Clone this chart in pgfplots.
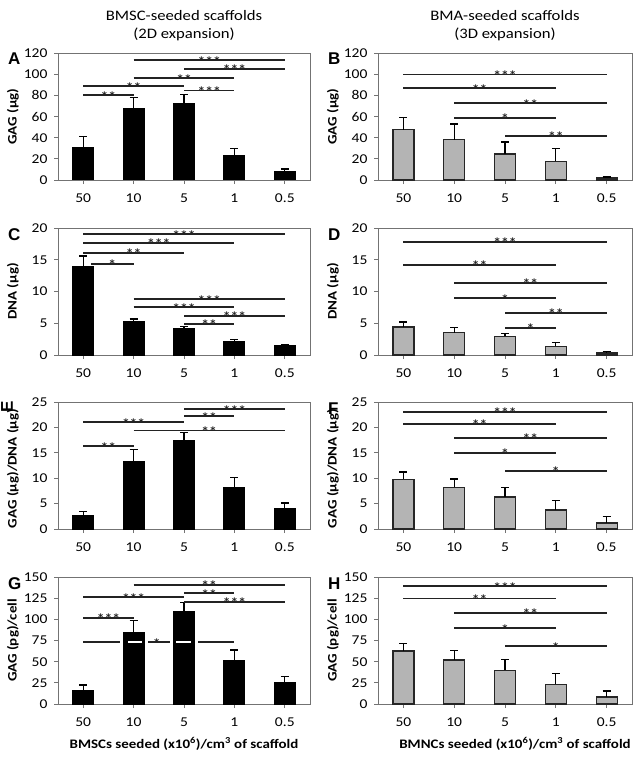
\documentclass[border=0pt]{standalone}
\usepackage{fontspec}
\setmainfont{Carlito}[FakeStretch=1.15]
\newfontfamily\panelfont{Liberation Sans}
\usepackage{pgfplots}
\pgfplotsset{compat=1.18}

\definecolor{framegray}{RGB}{115,115,115}
\definecolor{bargray}{RGB}{180,180,180}
\definecolor{sigcol}{RGB}{35,35,35}

\tikzset{stars/.style={anchor=base, yshift=-6pt, inner sep=0pt, font=\bfseries\fontsize{13.5}{15}\selectfont, text=sigcol}}
\pgfplotsset{
 panel/.style={
  scale only axis, height=127pt,
  xmin=-0.5, xmax=4.5, ymin=0,
  xtick={0,1,2,3,4}, xticklabels={50,10,5,1,0.5},
  tick pos=left, tick align=outside, major tick length=4pt,
  axis line style={framegray, line width=0.9pt},
  every tick/.style={framegray, line width=0.9pt},
  tick label style={font=\fontsize{13.5}{15}\selectfont},
  /pgf/number format/assume math mode=true,
  xticklabel style={yshift=-6pt},
  yticklabel style={xshift=-3pt},
  every axis y label/.style={at={([xshift=-45pt]rel axis cs:0,0.5)}, rotate=90, anchor=center, font=\bfseries\fontsize{13}{15}\selectfont},
  every axis x label/.style={at={([yshift=-44pt]rel axis cs:0.5,0)}, anchor=base, font=\bfseries\fontsize{13}{15}\selectfont},
  clip=false,
 },
 blackbars/.style={ybar, bar width=21pt, bar shift=0pt, fill=black, draw=black, line width=1pt,
   error bars/.cd, y dir=plus, y explicit, error bar style={line width=1.3pt, black}, error mark options={rotate=90, mark size=4pt, line width=1.3pt, black}},
 graybars/.style={ybar, bar width=21pt, bar shift=0pt, fill=bargray, draw=black!85, line width=1.2pt,
   error bars/.cd, y dir=plus, y explicit, error bar style={line width=1.3pt, black}, error mark options={rotate=90, mark size=4pt, line width=1.3pt, black}},
 sigline/.style={sigcol, line width=1.9pt, forget plot},
}
\newcommand{\sig}[4]{\addplot[sigline] coordinates {(#1,#3) (#2,#3)} node[pos=0.5, stars] {#4};}
\newcommand{\panellabel}[1]{\node[anchor=base west, inner sep=0pt, font=\panelfont\bfseries\fontsize{17}{19}\selectfont] at ([xshift=-50pt,yshift=-12pt]rel axis cs:0,1) {#1};}

\begin{document}
\begin{tikzpicture}
\useasboundingbox (0,0) rectangle (641pt,-757pt);

% ---------- A ----------
\begin{axis}[panel, width=252pt, at={(58pt,-53pt)}, anchor=north west,
  ymax=120, ytick={0,20,...,120}, ylabel={GAG (µg)}]
\addplot[blackbars] table[x=x,y=y,y error=e,row sep=\\] {x y e\\ 0 30.7 10.3\\ 1 67.4 10.6\\ 2 72 9\\ 3 22.9 6.9\\ 4 7.8 2.5\\};
\sig{0}{1}{80}{**}
\sig{0}{2}{88.7}{**}
\sig{1}{3}{96}{**}
\sig{2}{3}{84.6}{***}
\sig{2}{4}{105}{***}
\sig{1}{4}{113}{***}
\panellabel{A}
\node[align=center, anchor=south, font=\fontsize{14.5}{18}\selectfont] at ([yshift=9pt]rel axis cs:0.5,1) {BMSC-seeded scaffolds\\(2D expansion)};
\end{axis}

% ---------- B ----------
\begin{axis}[panel, width=254pt, at={(378pt,-53pt)}, anchor=north west,
  ymax=120, ytick={0,20,...,120}, ylabel={GAG (µg)}]
\addplot[graybars] table[x=x,y=y,y error=e,row sep=\\] {x y e\\ 0 47.6 11.4\\ 1 38 15\\ 2 24.5 11.5\\ 3 17.5 12.5\\ 4 1.9 0.9\\};
\sig{0}{4}{99.7}{***}
\sig{0}{3}{86.8}{**}
\sig{1}{4}{72.7}{**}
\sig{1}{3}{58.6}{*}
\sig{2}{4}{41.7}{**}
\panellabel{B}
\node[align=center, anchor=south, font=\fontsize{14.5}{18}\selectfont] at ([yshift=9pt]rel axis cs:0.5,1) {BMA-seeded scaffolds\\(3D expansion)};
\end{axis}

% ---------- C ----------
\begin{axis}[panel, width=252pt, at={(58pt,-228pt)}, anchor=north west,
  ymax=20, ytick={0,5,...,20}, ylabel={DNA (µg)}]
\addplot[blackbars] table[x=x,y=y,y error=e,row sep=\\] {x y e\\ 0 13.9 1.7\\ 1 5.2 0.45\\ 2 4.2 0.3\\ 3 2.1 0.3\\ 4 1.5 0.1\\};
\sig{0}{4}{19.05}{***}
\sig{0}{3}{17.7}{***}
\sig{0}{2}{16.1}{**}
\sig{0.15}{1}{14.4}{*}
\sig{1}{4}{8.8}{***}
\sig{1}{3}{7.55}{***}
\sig{2}{4}{6.15}{***}
\sig{2}{3}{4.9}{**}
\panellabel{C}
\end{axis}

% ---------- D ----------
\begin{axis}[panel, width=254pt, at={(378pt,-228pt)}, anchor=north west,
  ymax=20, ytick={0,5,...,20}, ylabel={DNA (µg)}]
\addplot[graybars] table[x=x,y=y,y error=e,row sep=\\] {x y e\\ 0 4.4 0.8\\ 1 3.5 0.8\\ 2 2.95 0.45\\ 3 1.37 0.63\\ 4 0.3 0.2\\};
\sig{0}{4}{17.8}{***}
\sig{0}{3}{14.2}{**}
\sig{1}{4}{11.35}{**}
\sig{1}{3}{8.97}{*}
\sig{2}{4}{6.65}{**}
\sig{2}{3}{4.27}{*}
\panellabel{D}
\end{axis}

% ---------- E ----------
\begin{axis}[panel, width=252pt, at={(58pt,-402pt)}, anchor=north west,
  ymax=25, ytick={0,5,...,25}, ylabel={GAG (µg)/DNA (µg)},
  every axis y label/.append style={at={([xshift=-45pt,yshift=-3pt]rel axis cs:0,0.5)}}]
\addplot[blackbars] table[x=x,y=y,y error=e,row sep=\\] {x y e\\ 0 2.57 0.93\\ 1 13.35 2.3\\ 2 17.4 1.55\\ 3 8.1 2.1\\ 4 4.08 1.02\\};
\sig{0}{1}{16.3}{**}
\sig{0}{2}{21}{***}
\sig{1}{4}{19.4}{**}
\sig{2}{3}{22.2}{**}
\sig{2}{4}{23.6}{***}
\node[anchor=center, rotate=90, inner sep=0pt, font=\panelfont\bfseries\fontsize{17}{19}\selectfont] at ([xshift=-51pt,yshift=-5pt]rel axis cs:0,1) {E};
\end{axis}

% ---------- F ----------
\begin{axis}[panel, width=254pt, at={(378pt,-402pt)}, anchor=north west,
  ymax=25, ytick={0,5,...,25}, ylabel={GAG (µg)/DNA (µg)},
  every axis y label/.append style={at={([xshift=-45pt,yshift=-3pt]rel axis cs:0,0.5)}}]
\addplot[graybars] table[x=x,y=y,y error=e,row sep=\\] {x y e\\ 0 9.8 1.4\\ 1 8.2 1.67\\ 2 6.3 1.85\\ 3 3.75 1.9\\ 4 1.2 1.2\\};
\sig{0}{4}{23.1}{***}
\sig{0}{3}{20.7}{**}
\sig{1}{4}{18.0}{**}
\sig{1}{3}{15.0}{*}
\sig{2}{4}{11.5}{*}
\panellabel{F}
\end{axis}

% ---------- G ----------
\begin{axis}[panel, width=252pt, at={(58pt,-577pt)}, anchor=north west,
  ymax=150, ytick={0,25,...,150}, ylabel={GAG (pg)/cell},
  xlabel={BMSCs seeded (x10\textsuperscript{6})/cm\textsuperscript{3} of scaffold}]
\addplot[blackbars] table[x=x,y=y,y error=e,row sep=\\] {x y e\\ 0 16 6.3\\ 1 84.2 14.1\\ 2 109.3 10.2\\ 3 51.3 12.5\\ 4 25.5 7\\};
\sig{1}{4}{140.6}{**}
\sig{0}{2}{126}{***}
\sig{2}{3}{130.8}{**}
\sig{2}{4}{120.6}{***}
\sig{0}{1}{102}{***}
\addplot[sigline] coordinates {(0,73.2) (0.73,73.2)};
\addplot[sigline] coordinates {(1.29,73.2) (1.73,73.2)} node[pos=0.39, stars] {*};
\addplot[sigline] coordinates {(2.28,73.2) (3,73.2)};
\addplot[sigline, white] coordinates {(0.89,73.2) (1.16,73.2)};
\addplot[sigline, white] coordinates {(1.85,73.2) (2.13,73.2)};
\panellabel{G}
\end{axis}

% ---------- H ----------
\begin{axis}[panel, width=254pt, at={(378pt,-577pt)}, anchor=north west,
  ymax=150, ytick={0,25,...,150}, ylabel={GAG (pg)/cell},
  xlabel={BMNCs seeded (x10\textsuperscript{6})/cm\textsuperscript{3} of scaffold},
  xlabel style={xshift=10pt}]
\addplot[graybars] table[x=x,y=y,y error=e,row sep=\\] {x y e\\ 0 62.7 8.6\\ 1 52 11\\ 2 40 12.9\\ 3 23.5 12.9\\ 4 8.2 7.1\\};
\sig{0}{4}{139}{***}
\sig{0}{3}{124.6}{**}
\sig{1}{4}{107.7}{**}
\sig{1}{3}{89.7}{*}
\sig{2}{4}{68.2}{*}
\panellabel{H}
\end{axis}
\end{tikzpicture}
\end{document}
